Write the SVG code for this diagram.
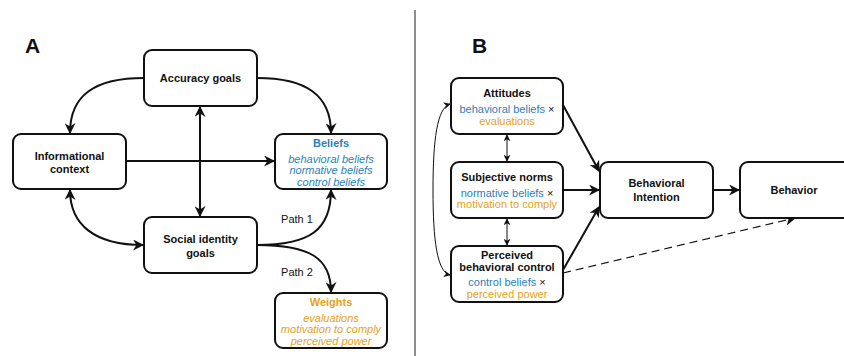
<svg xmlns="http://www.w3.org/2000/svg" width="844" height="356" viewBox="0 0 844 356">
<defs>
<style>
.box{fill:#fff;stroke:#111;stroke-width:2}
.t{font-family:"Liberation Sans",Arial,sans-serif;font-size:11px;text-anchor:middle;fill:#111}
.b{font-weight:bold}
.i{font-style:italic}
.blue{fill:#2a7fba}
.orange{fill:#e5a21a}
.lbl{font-family:"Liberation Sans",Arial,sans-serif;font-size:21px;font-weight:bold;fill:#111}
.c{fill:none;stroke:#111;stroke-width:2}
.thin{fill:none;stroke:#111;stroke-width:1}
.dash{fill:none;stroke:#111;stroke-width:1.2;stroke-dasharray:8,5}
</style>
<marker id="ah" viewBox="0 0 10 10" refX="9" refY="5" markerWidth="11" markerHeight="11" markerUnits="userSpaceOnUse" orient="auto-start-reverse">
<path d="M0,0 L10,5 L0,10 L3,5 Z" fill="#111"/>
</marker>
<marker id="as" viewBox="0 0 10 10" refX="9" refY="5" markerWidth="7" markerHeight="7" markerUnits="userSpaceOnUse" orient="auto-start-reverse">
<path d="M0,0 L10,5 L0,10 L3,5 Z" fill="#111"/>
</marker>
</defs>
<rect width="844" height="356" fill="#fff"/>
<line x1="415" y1="10" x2="415" y2="356" stroke="#444" stroke-width="1.2"/>
<text class="lbl" x="25" y="53">A</text>
<text class="lbl" x="472" y="53">B</text>

<g id="connectors">
<path class="c" d="M144,78 C95,78 70,95 70,133" marker-end="url(#ah)"/>
<path class="c" d="M257,78 C306,78 331,95 331,133" marker-end="url(#ah)"/>
<path class="c" d="M126,161 L274,161" marker-end="url(#ah)"/>
<path class="c" d="M200,107 L200,216" marker-start="url(#ah)" marker-end="url(#ah)"/>
<path class="c" d="M70,190 C70,225 95,245 143,245" marker-start="url(#ah)" marker-end="url(#ah)"/>
<path class="c" d="M257,245 C310,245 331,230 331,190" marker-end="url(#ah)"/>
<path class="c" d="M257,245 C310,245 331,258 331,292" marker-end="url(#ah)"/>
<path class="c" d="M563,105 L599,171" marker-end="url(#ah)"/>
<path class="c" d="M563,190 L599,190" marker-end="url(#ah)"/>
<path class="c" d="M563,270 L599,207" marker-end="url(#ah)"/>
<path class="c" d="M713,190 L739,190" marker-end="url(#ah)"/>
<path class="dash" d="M563,273 L795,218" marker-end="url(#ah)"/>
<path class="thin" d="M507,135 L507,161" marker-start="url(#as)" marker-end="url(#as)"/>
<path class="thin" d="M507,219 L507,245" marker-start="url(#as)" marker-end="url(#as)"/>
<path class="thin" d="M450,104 C437,108 433,140 433,190 C433,240 437,272 450,275" marker-start="url(#as)" marker-end="url(#as)"/>
<text class="t" x="297" y="223">Path 1</text>
<text class="t" x="297" y="276">Path 2</text>
</g>

<g id="accuracy">
<rect class="box" x="144" y="50" width="113" height="56" rx="8"/>
<text class="t b" x="200.5" y="82">Accuracy goals</text>
</g>
<g id="informational">
<rect class="box" x="13" y="134" width="113" height="55" rx="8"/>
<text class="t b" x="69.5" y="160">Informational</text>
<text class="t b" x="69.5" y="173">context</text>
</g>
<g id="beliefs">
<rect class="box" x="275" y="134" width="112" height="55" rx="8"/>
<text class="t b blue" x="331" y="147">Beliefs</text>
<text class="t i blue" x="331" y="163">behavioral beliefs</text>
<text class="t i blue" x="331" y="174">normative beliefs</text>
<text class="t i blue" x="331" y="186">control beliefs</text>
</g>
<g id="social">
<rect class="box" x="144" y="217" width="113" height="56" rx="8"/>
<text class="t b" x="200.5" y="243">Social identity</text>
<text class="t b" x="200.5" y="257">goals</text>
</g>
<g id="weights">
<rect class="box" x="275" y="293" width="112" height="55" rx="8"/>
<text class="t b orange" x="331" y="306">Weights</text>
<text class="t i orange" x="331" y="322">evaluations</text>
<text class="t i orange" x="331" y="333">motivation to comply</text>
<text class="t i orange" x="331" y="345">perceived power</text>
</g>

<g id="attitudes">
<rect class="box" x="451" y="78" width="112" height="56" rx="8"/>
<text class="t b" x="507" y="97">Attitudes</text>
<text class="t" x="507" y="113"><tspan class="blue">behavioral beliefs</tspan> ×</text>
<text class="t orange" x="507" y="125">evaluations</text>
</g>
<g id="subjective">
<rect class="box" x="451" y="162" width="112" height="56" rx="8"/>
<text class="t b" x="507" y="181">Subjective norms</text>
<text class="t" x="507" y="197"><tspan class="blue">normative beliefs</tspan> ×</text>
<text class="t orange" x="507" y="208">motivation to comply</text>
</g>
<g id="pbc">
<rect class="box" x="451" y="246" width="112" height="56" rx="8"/>
<text class="t b" x="507" y="259">Perceived</text>
<text class="t b" x="507" y="271">behavioral control</text>
<text class="t" x="507" y="286"><tspan class="blue">control beliefs</tspan> ×</text>
<text class="t orange" x="507" y="298">perceived power</text>
</g>
<g id="intention">
<rect class="box" x="600" y="162" width="113" height="56" rx="8"/>
<text class="t b" x="656.5" y="187">Behavioral</text>
<text class="t b" x="656.5" y="201">Intention</text>
</g>
<g id="behavior">
<rect class="box" x="740" y="162" width="113" height="56" rx="8"/>
<text class="t b" x="794" y="194">Behavior</text>
</g>
</svg>
